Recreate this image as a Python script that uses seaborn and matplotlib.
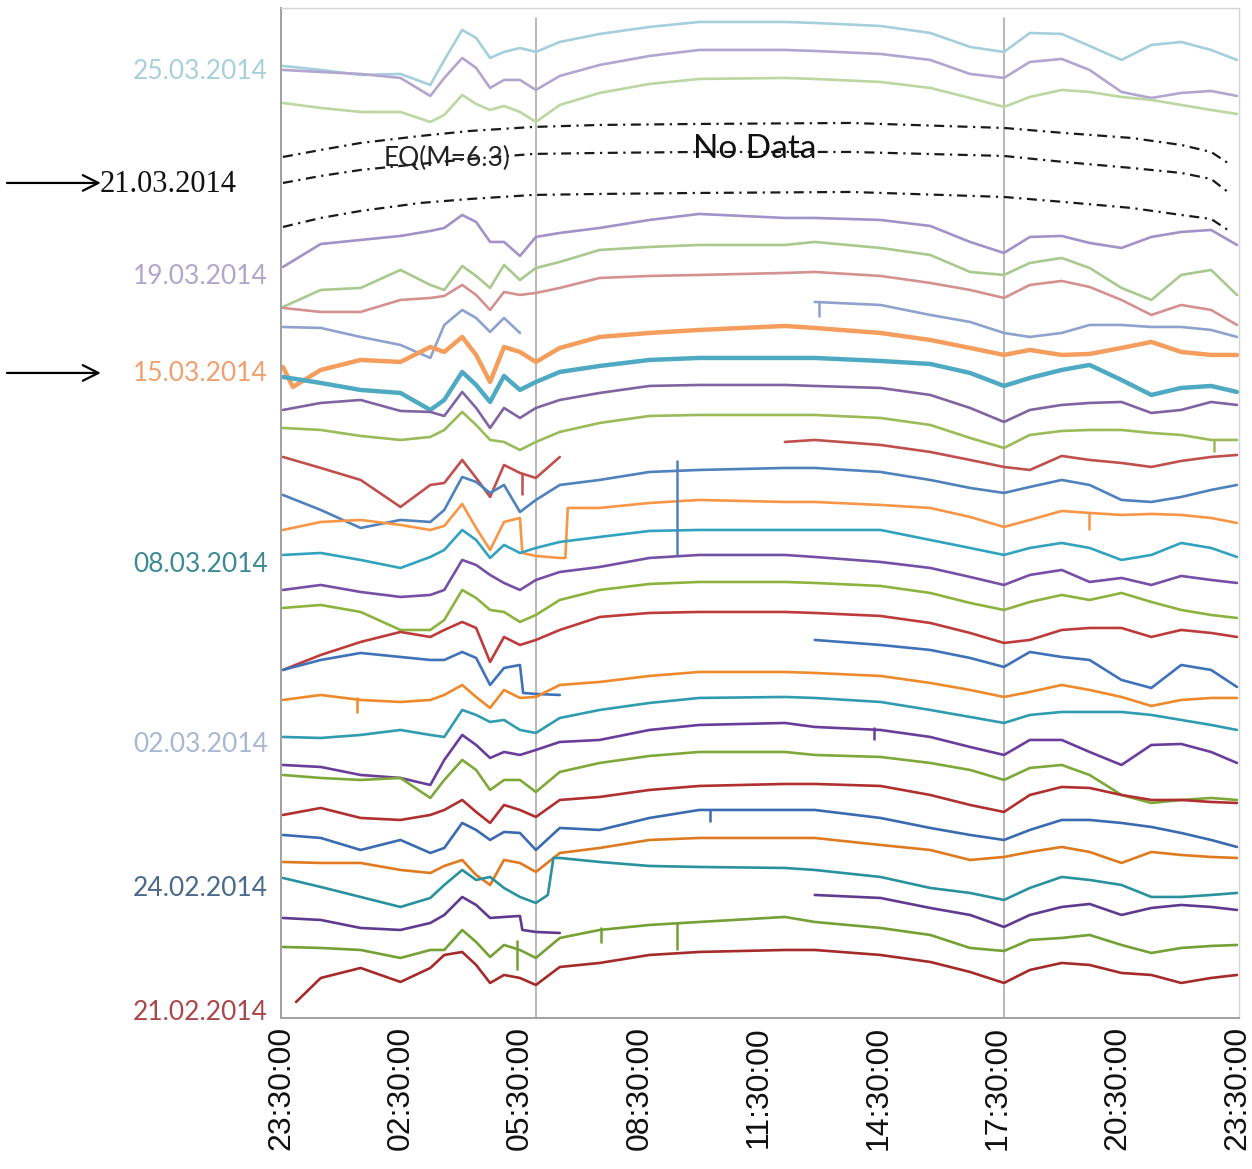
import numpy as np
import matplotlib
matplotlib.use('Agg')
import matplotlib.pyplot as plt
import seaborn as sns

# VLF amplitude, one trace per day, stacked (arbitrary units, offset per day)
# read-off times in hours after 23:30 UT
T_HOURS = [0.05, 1.0, 2.0, 3.0, 3.75, 4.1, 4.55, 4.9, 5.25, 5.6,
           6.0, 6.4, 7.0, 8.0, 9.25, 10.5, 12.65, 13.4, 15.05, 16.3,
           17.3, 18.15, 18.8, 19.6, 20.3, 21.1, 21.85, 22.6, 23.35, 24.0]
nan = float('nan')

v_25_03 = [95.2, 94.8, 94.3, 94.4, 93.3, 95.8, 98.8, 98.0, 96.0, 96.6,
           97.0, 96.6, 97.6, 98.4, 99.1, 99.6, 99.6, 99.5, 99.2, 98.5,
           97.1, 96.6, 98.5, 98.4, 97.2, 95.8, 97.3, 97.6, 96.8, 95.8]
v_24_03 = [94.8, 94.6, 94.4, 94.0, 92.2, 94.0, 96.0, 95.0, 93.0, 93.8,
           93.8, 92.8, 94.2, 95.3, 96.2, 96.8, 96.8, 96.7, 96.4, 95.8,
           94.4, 94.0, 95.6, 95.9, 94.8, 92.6, 92.0, 92.5, 92.7, 92.2]
v_23_03 = [91.5, 91.0, 90.6, 90.6, 89.6, 90.3, 92.3, 91.4, 90.8, 91.2,
           90.6, 89.6, 91.3, 92.5, 93.4, 93.9, 94.0, 93.9, 93.6, 93.0,
           92.0, 91.1, 92.1, 92.8, 92.6, 92.1, 91.8, 91.3, 90.8, 90.4]
v_19_03 = [75.1, 77.4, 77.8, 78.2, 78.7, 79.0, 80.3, 79.6, 77.6, 77.6,
           76.2, 78.1, 78.5, 79.0, 79.8, 80.4, 80.0, 80.0, 79.8, 79.2,
           77.6, 76.5, 78.1, 78.2, 77.5, 77.0, 78.1, 78.6, 78.8, 77.3]
v_18_03 = [71.1, 72.8, 73.0, 74.8, 73.3, 72.8, 75.2, 74.2, 73.0, 75.3,
           73.8, 75.0, 75.6, 76.8, 77.1, 77.3, 77.3, 77.6, 77.0, 76.3,
           74.6, 74.3, 75.5, 76.0, 75.0, 73.0, 71.8, 74.3, 74.8, 72.3]
v_17_03 = [71.0, 70.6, 70.6, 71.8, 72.0, 72.2, 73.3, 72.3, 70.8, 72.6,
           72.3, 72.5, 73.0, 74.0, 74.2, 74.3, 74.5, 74.6, 74.2, 73.5,
           72.8, 72.0, 73.3, 73.7, 73.1, 71.8, 70.3, 71.3, 70.8, 69.3]
v_16_03 = [69.1, 69.0, 68.1, 67.3, 66.0, 69.3, 70.8, 70.0, 68.6, 70.0,
           68.5, nan, nan, nan, nan, nan, nan, 71.6, 71.3, 70.3,
           69.6, 68.5, 68.1, 68.5, 69.3, 69.3, 69.1, 69.1, 68.8, 68.1]
v_15_03 = [65.1, 64.8, 65.8, 65.6, 67.1, 66.6, 68.1, 66.3, 63.6, 67.1,
           66.6, 65.6, 67.0, 68.1, 68.5, 68.8, 69.2, 69.0, 68.5, 67.8,
           67.0, 66.3, 66.8, 66.3, 66.4, 67.0, 67.6, 66.6, 66.3, 66.3]
v_14_03 = [64.1, 63.5, 62.8, 62.5, 60.8, 61.8, 64.6, 63.3, 61.6, 64.2,
           62.8, 63.6, 64.6, 65.2, 65.8, 66.0, 66.0, 66.0, 65.7, 65.4,
           64.5, 63.2, 64.0, 64.8, 65.3, 63.8, 62.3, 63.0, 63.2, 62.6]
v_13_03 = [60.8, 61.5, 61.8, 60.7, 60.6, 60.2, 62.6, 61.0, 59.0, 61.0,
           60.0, 61.0, 61.8, 62.5, 63.2, 63.3, 63.3, 63.2, 63.0, 62.3,
           61.0, 59.6, 60.8, 61.3, 61.5, 61.6, 60.5, 60.8, 61.6, 61.3]
v_12_03 = [59.0, 58.8, 58.2, 57.8, 58.1, 58.8, 60.6, 59.3, 57.8, 57.6,
           56.8, 57.6, 58.6, 59.5, 60.2, 60.3, 60.3, 60.3, 60.0, 59.3,
           58.0, 57.0, 58.3, 58.7, 58.8, 58.8, 58.5, 58.3, 57.8, 57.8]
v_11_03 = [56.1, 55.0, 53.8, 51.1, 53.3, 53.5, 55.8, 54.0, 52.1, 55.3,
           54.5, 54.0, 56.1, nan, nan, nan, 57.6, 57.8, 57.3, 56.6,
           55.8, 55.1, 54.8, 56.2, 55.8, 55.5, 55.1, 55.7, 56.1, 56.3]
v_10_03 = [52.3, 50.8, 49.0, 49.8, 49.6, 50.8, 54.1, 53.6, 52.5, 53.3,
           50.6, 51.8, 53.3, 53.8, 54.6, 54.8, 55.0, 55.0, 54.6, 53.8,
           53.0, 52.5, 53.1, 53.8, 53.3, 51.8, 51.6, 52.1, 52.8, 53.3]
v_09_03 = [48.8, 49.6, 49.8, 49.3, 48.8, 49.2, 51.4, 49.0, 46.8, 49.6,
           50.0, 46.2, 46.0, 51.0, 51.5, 51.8, 51.6, 51.6, 51.3, 51.0,
           50.1, 49.1, 49.8, 50.7, 50.5, 50.3, 50.4, 50.3, 50.0, 49.5]
v_08_03 = [46.3, 46.5, 45.8, 45.0, 46.1, 46.8, 48.8, 47.8, 46.0, 47.3,
           46.5, 47.0, 47.6, 48.1, 48.7, 48.8, 48.8, 48.8, 48.8, 47.8,
           47.0, 46.3, 47.0, 47.5, 47.0, 45.8, 46.3, 47.5, 47.0, 46.1]
v_07_03 = [42.8, 43.3, 42.6, 42.1, 42.3, 42.8, 45.8, 45.3, 44.3, 43.5,
           42.8, 43.8, 44.6, 45.1, 46.0, 46.3, 46.3, 46.1, 45.6, 45.0,
           44.1, 43.3, 44.3, 44.8, 43.6, 44.0, 43.3, 44.2, 43.8, 43.5]
v_06_03 = [41.0, 41.3, 40.6, 38.8, 38.8, 39.8, 42.8, 42.0, 40.8, 40.6,
           39.6, 40.3, 41.8, 42.8, 43.4, 43.6, 43.6, 43.5, 43.2, 42.5,
           41.5, 40.8, 41.6, 42.3, 41.8, 42.5, 41.6, 40.8, 40.3, 40.0]
v_05_03 = [34.8, 36.3, 37.6, 38.6, 38.1, 38.8, 39.6, 39.0, 35.6, 38.1,
           37.3, 37.8, 38.8, 40.1, 40.5, 40.6, 40.6, 40.5, 40.2, 39.5,
           38.5, 37.5, 37.8, 38.8, 39.0, 39.0, 38.1, 38.8, 38.5, 38.1]
v_04_03 = [34.8, 35.8, 36.5, 36.1, 35.8, 35.8, 36.6, 36.0, 33.3, 35.0,
           35.3, 32.4, 32.3, nan, nan, nan, nan, 37.8, 37.3, 36.8,
           36.0, 35.1, 36.6, 36.1, 35.8, 33.8, 33.0, 35.3, 34.8, 33.1]
v_03_03 = [31.8, 32.3, 31.8, 31.6, 31.8, 32.3, 33.3, 32.1, 31.0, 32.8,
           32.0, 32.1, 33.3, 33.6, 34.2, 34.6, 34.6, 34.5, 34.2, 33.5,
           32.8, 32.1, 32.6, 33.3, 32.8, 32.1, 31.2, 31.8, 32.0, 32.0]
v_02_03 = [28.1, 28.0, 28.3, 28.8, 28.3, 28.1, 30.8, 30.3, 29.6, 29.8,
           28.8, 28.5, 30.0, 30.8, 31.5, 32.0, 32.1, 32.0, 31.6, 30.8,
           30.1, 29.5, 30.3, 30.6, 30.6, 30.6, 30.3, 29.8, 29.3, 28.8]
v_01_03 = [25.3, 25.1, 24.3, 24.0, 23.3, 25.8, 28.3, 27.3, 26.0, 26.6,
           26.3, 26.8, 27.6, 27.8, 28.8, 29.3, 29.5, 29.1, 28.8, 28.1,
           27.1, 26.3, 27.8, 27.8, 26.6, 25.3, 27.3, 27.4, 26.6, 25.5]
v_28_02 = [24.3, 24.0, 23.8, 24.0, 22.0, 23.8, 25.8, 24.8, 22.8, 23.8,
           23.8, 22.6, 24.6, 25.5, 26.2, 26.6, 26.6, 26.3, 26.1, 25.5,
           24.8, 23.8, 25.0, 25.3, 24.3, 22.3, 21.5, 21.8, 22.0, 21.8]
v_27_02 = [20.3, 21.0, 20.0, 19.8, 20.3, 20.8, 21.8, 20.6, 19.5, 21.3,
           20.8, 20.1, 21.8, 22.1, 22.8, 23.2, 23.4, 23.4, 23.2, 22.3,
           21.3, 20.6, 22.3, 23.1, 23.0, 22.3, 21.8, 21.8, 21.6, 21.5]
v_26_02 = [18.3, 18.0, 16.8, 17.8, 16.5, 17.0, 19.5, 18.8, 17.8, 18.6,
           18.5, 16.8, 19.0, 18.8, 20.0, 20.8, 20.8, 20.8, 20.0, 19.0,
           18.3, 17.8, 18.8, 19.8, 19.8, 19.5, 19.1, 18.5, 17.8, 17.1]
v_25_02 = [15.6, 15.5, 15.5, 14.8, 14.5, 15.2, 15.8, 14.3, 13.3, 15.8,
           15.5, 14.6, 16.5, 17.0, 17.8, 18.0, 18.0, 18.0, 17.3, 16.8,
           15.8, 16.1, 16.6, 17.1, 16.6, 15.5, 16.6, 16.3, 16.1, 16.0]
v_24_02 = [14.0, 13.1, 12.1, 11.1, 12.0, 13.3, 14.8, 13.8, 14.1, 13.0,
           12.1, 11.5, 16.0, 15.6, 15.2, 15.1, 15.0, 14.8, 14.1, 13.0,
           12.5, 11.8, 13.0, 14.1, 13.8, 13.3, 12.1, 12.1, 12.3, 12.5]
v_23_02 = [10.0, 9.8, 9.0, 8.8, 9.5, 10.3, 12.1, 11.3, 10.0, 10.1,
           10.2, 8.6, 8.5, nan, nan, nan, nan, 12.3, 12.0, 11.0,
           10.3, 9.1, 10.3, 11.1, 11.4, 10.3, 11.0, 11.3, 11.1, 10.8]
v_22_02 = [7.1, 7.0, 6.8, 6.0, 6.8, 6.8, 8.8, 7.6, 6.1, 7.3,
           6.8, 6.0, 8.0, 8.8, 9.3, 9.6, 10.1, 9.6, 9.0, 8.3,
           7.0, 6.7, 7.8, 8.0, 8.3, 7.3, 6.5, 7.0, 7.2, 7.3]
v_21_02 = [nan, 4.0, 5.0, 3.6, 5.0, 6.3, 6.6, 5.3, 3.5, 4.3,
           4.0, 3.3, 5.1, 5.5, 6.3, 6.6, 6.8, 6.8, 6.3, 5.6,
           4.6, 3.5, 4.8, 5.5, 5.3, 4.5, 4.3, 3.5, 4.0, 4.3]

extra_15_03 = [(0.3, 63.1)]
extra_09_03 = [(6.06, 46.5), (7.14, 46.0), (7.2, 51.0)]
extra_04_03 = [(6.08, 32.5)]
extra_24_02 = [(6.7, 12.3), (6.84, 16.0)]
extra_23_02 = [(6.06, 8.8)]
extra_21_02 = [(0.38, 1.6)]

# short single-sample spikes
SPIKE_DAY = ['16.03', '11.03', '10.03', '09.03', '12.03', '03.03',
             '01.03', '26.02', '22.02', '22.02', '22.02']
SPIKE_HOUR = [13.5, 6.06, 9.95, 20.28, 23.42, 1.91, 14.88, 10.78, 5.93, 8.04, 9.95]
SPIKE_FROM = [71.6, 54.5, 55.8, 50.5, 57.8, 32.1, 29.1, 20.8, 7.8, 9.1, 9.5]
SPIKE_TO = [70.1, 52.3, 46.3, 48.8, 56.6, 30.5, 27.8, 19.6, 4.8, 7.5, 6.8]

# days without data (20-22.03), drawn as dash-dot guides
NODATA_T = [0.05, 1.0, 2.0, 3.5, 4.75, 6.33, 8.0, 10.5, 14.3, 18.15,
            19.65, 21.35, 22.6, 23.35, 23.77]
nd_22_03 = [86.1, 86.8, 87.5, 88.2, 88.7, 89.1, 89.3, 89.4, 89.5, 89.0,
            88.5, 88.0, 87.3, 86.6, 85.5]
nd_21_03 = [83.5, 84.2, 84.8, 85.4, 85.9, 86.4, 86.5, 86.6, 86.6, 86.2,
            85.6, 85.0, 84.5, 83.9, 82.6]
nd_20_03 = [79.1, 80.0, 80.7, 81.5, 81.9, 82.3, 82.4, 82.5, 82.6, 82.1,
            81.6, 81.0, 80.3, 79.9, 78.8]

# sunrise / sunset terminator times on the path (hours after 23:30)
TERMINATOR_HOURS = [6.41, 18.15]

DAY_NAMES = ['25.03', '24.03', '23.03', '19.03', '18.03', '17.03', '16.03',
             '15.03', '14.03', '13.03', '12.03', '11.03', '10.03', '09.03',
             '08.03', '07.03', '06.03', '05.03', '04.03', '03.03', '02.03',
             '01.03', '28.02', '27.02', '26.02', '25.02', '24.02', '23.02',
             '22.02', '21.02']
DAY_VALUES = [v_25_03, v_24_03, v_23_03, v_19_03, v_18_03, v_17_03, v_16_03,
              v_15_03, v_14_03, v_13_03, v_12_03, v_11_03, v_10_03, v_09_03,
              v_08_03, v_07_03, v_06_03, v_05_03, v_04_03, v_03_03, v_02_03,
              v_01_03, v_28_02, v_27_02, v_26_02, v_25_02, v_24_02, v_23_02,
              v_22_02, v_21_02]
DAY_COLORS = ['#a5cfdd', '#b2a6cf', '#bdd6a2', '#a292c8', '#a9c98e', '#d39290',
              '#8fa2cd', '#f59d5c', '#4eaac3', '#8064a2', '#9bbb59', '#c0504d',
              '#4f81bd', '#f79646', '#31a3bf', '#7650a6', '#8db33e', '#be3b3b',
              '#3f72b8', '#ee8a2c', '#2f9cb0', '#6a3d9a', '#7fa83a', '#b03030',
              '#3a6bb0', '#e07a20', '#2a929e', '#5f3a8f', '#74a035', '#a52a2a']
THICK_DAYS = ['15.03', '14.03']
EXTRAS = {'15.03': extra_15_03, '09.03': extra_09_03, '04.03': extra_04_03,
          '24.02': extra_24_02, '23.02': extra_23_02, '21.02': extra_21_02}

# date labels on the left
LABEL_DAYS = ['25.03.2014', '19.03.2014', '15.03.2014', '08.03.2014',
              '02.03.2014', '24.02.2014', '21.02.2014']
LABEL_LEVEL = [94.6, 74.1, 64.4, 45.3, 27.3, 12.9, 0.5]
LABEL_COLORS = ['#a8d0dc', '#b0a6cc', '#f0a070', '#3c8a96', '#a8b8d4', '#4a6a8c', '#a8484a']

TICK_HOURS = [0, 3, 6, 9, 12, 15, 18, 21, 24]
TICK_LABELS = ['23:30:00', '02:30:00', '05:30:00', '08:30:00', '11:30:00',
               '14:30:00', '17:30:00', '20:30:00', '23:30:00']


def split_segments(t, v):
    """Sort points by time and split them where values are missing."""
    order = np.argsort(t)
    t = np.asarray(t, float)[order]
    v = np.asarray(v, float)[order]
    segs, cur_t, cur_v = [], [], []
    for ti, vi in zip(t, v):
        if np.isnan(vi):
            if len(cur_t) > 1:
                segs.append((cur_t, cur_v))
            cur_t, cur_v = [], []
        else:
            cur_t.append(ti)
            cur_v.append(vi)
    if len(cur_t) > 1:
        segs.append((cur_t, cur_v))
    return segs


sns.set_style('white')
plt.rcParams['font.family'] = ['Liberation Sans', 'DejaVu Sans']

fig = plt.figure(figsize=(12.52, 11.69), dpi=100)
ax = fig.add_axes([0.2244, 0.1292, 0.7652, 0.8640])

for h in TERMINATOR_HOURS:
    ax.axvline(h, color='#a6a6a6', lw=1.1, zorder=0.5, ymax=0.99)

for name, vals, col in zip(DAY_NAMES, DAY_VALUES, DAY_COLORS):
    t = list(T_HOURS)
    v = list(vals)
    for et, ev in EXTRAS.get(name, []):
        t.append(et)
        v.append(ev)
    lw = 3.2 if name in THICK_DAYS else 1.9
    for st, sv in split_segments(t, v):
        sns.lineplot(x=st, y=sv, color=col, linewidth=lw, ax=ax,
                     estimator=None, legend=False)

for d, h, y0, y1 in zip(SPIKE_DAY, SPIKE_HOUR, SPIKE_FROM, SPIKE_TO):
    col = DAY_COLORS[DAY_NAMES.index(d)]
    ax.vlines(h, y1, y0, color=col, lw=1.8)

for nd in [nd_22_03, nd_21_03, nd_20_03]:
    sns.lineplot(x=NODATA_T, y=nd, color='#1a1a1a', linewidth=1.6, ax=ax,
                 estimator=None, legend=False)
for line in ax.lines[-3:]:
    line.set_dashes((4.5, 2.5, 1, 2.5))

ax.text(4.17, 86.0, 'EQ(M=6.3)', fontsize=19, family=['Lato', 'DejaVu Sans'],
        color='#222222', ha='center', va='center', zorder=5)
ax.text(11.89, 86.9, 'No Data', fontsize=24, family=['Lato', 'DejaVu Sans'],
        color='#111111', ha='center', va='center', zorder=5)

ytr = ax.get_yaxis_transform()
for lab, lev, col in zip(LABEL_DAYS, LABEL_LEVEL, LABEL_COLORS):
    ax.text(-0.0136, lev, lab, transform=ytr, ha='right', va='center',
            fontsize=19, color=col, family=['Lato', 'DejaVu Sans'])

ax.text(-0.189, 83.3, '21.03.2014', transform=ytr, ha='left', va='center',
        fontsize=22, color='#111111', family=['Liberation Serif', 'DejaVu Serif'])
for lev in [83.5, 64.5]:
    ax.annotate('', xy=(-0.188, lev), xycoords=ytr, xytext=(-0.286, lev),
                textcoords=ytr,
                arrowprops=dict(arrowstyle='->', color='black', lw=1.6,
                                mutation_scale=28, shrinkA=0, shrinkB=0))

ax.set_xlim(0, 24.05)
ax.set_ylim(0, 101)
ax.set_xticks(TICK_HOURS)
ax.set_xticklabels(TICK_LABELS, rotation=90, fontsize=23, color='#111111')
ax.set_yticks([0, 11, 25, 39, 53, 67, 81, 95])
ax.set_yticklabels([])
ax.tick_params(axis='x', direction='out', length=4, width=1, color='#a0a0a0', pad=2)
ax.tick_params(axis='y', direction='out', length=3, width=1, color='#a0a0a0')
ax.set_xlabel('')
ax.set_ylabel('')
for side in ['left', 'bottom']:
    ax.spines[side].set_color('#a0a0a0')
    ax.spines[side].set_linewidth(1.4)
for side in ['top', 'right']:
    ax.spines[side].set_color('#d4d4d4')
    ax.spines[side].set_linewidth(1.0)

fig.savefig('out.png', dpi=100)
plt.close(fig)
